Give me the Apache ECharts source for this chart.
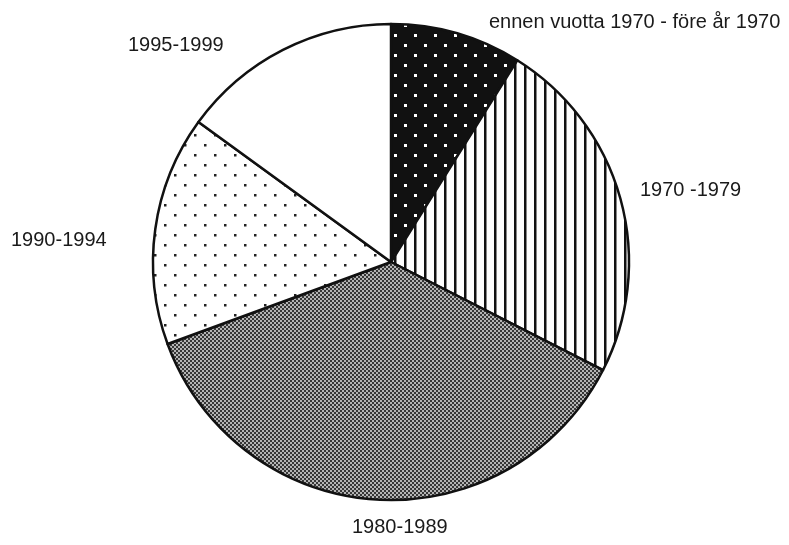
<!DOCTYPE html>
<html>
<head>
<meta charset="utf-8">
<script src="https://cdn.jsdelivr.net/npm/echarts@6/dist/echarts.min.js"></script>
<style>
  html, body { margin: 0; padding: 0; background: #fff; }
  #chart { width: 789px; height: 545px; }
</style>
</head>
<body>
<div id="chart"></div>
<script>
// periods and their shares (%)
const periods = ['ennen vuotta 1970 - före år 1970', '1970 -1979', '1980-1989', '1990-1994', '1995-1999'];
const shares = [8.9, 23.6, 36.9, 15.6, 15.0];

// fill patterns
function makeTile(w, h, draw) {
  const c = document.createElement('canvas');
  c.width = w; c.height = h;
  draw(c.getContext('2d'));
  return c;
}
const darkDots = makeTile(20, 20, function (g) {
  g.fillStyle = '#111'; g.fillRect(0, 0, 20, 20);
  g.fillStyle = '#fff';
  g.fillRect(4, 4, 3, 3); g.fillRect(14, 14, 3, 3);
});
const vLines = makeTile(10, 10, function (g) {
  g.fillStyle = '#fff'; g.fillRect(0, 0, 10, 10);
  g.fillStyle = '#111'; g.fillRect(4, 0, 2.5, 10);
});
const checker = makeTile(4, 4, function (g) {
  g.fillStyle = '#363636'; g.fillRect(0, 0, 4, 4);
  g.fillStyle = '#b4b4b4'; g.fillRect(0, 0, 2, 2); g.fillRect(2, 2, 2, 2);
});
const lightDots = makeTile(20, 20, function (g) {
  g.fillStyle = '#fff'; g.fillRect(0, 0, 20, 20);
  g.fillStyle = '#222';
  g.fillRect(4, 4, 2.5, 2.5); g.fillRect(14, 14, 2.5, 2.5);
});
const fills = [
  { image: darkDots, repeat: 'repeat' },
  { image: vLines, repeat: 'repeat' },
  { image: checker, repeat: 'repeat' },
  { image: lightDots, repeat: 'repeat' },
  '#fff'
];

// where each label sits (left edge, vertical middle)
const labelPos = [[489, 22], [640, 190], [352, 527], [11, 240], [128, 45]];

const chart = echarts.init(document.getElementById('chart'));
chart.setOption({
  animation: false,
  series: [{
    type: 'pie',
    center: [391, 262],
    radius: 238,
    startAngle: 90,
    clockwise: true,
    avoidLabelOverlap: false,
    data: periods.map(function (p, i) {
      return { name: p, value: shares[i], itemStyle: { color: fills[i] } };
    }),
    itemStyle: { borderColor: '#111', borderWidth: 2.5 },
    label: {
      show: true,
      position: 'outside',
      formatter: '{b}',
      fontFamily: 'Liberation Sans, Arial, sans-serif',
      fontSize: 20,
      color: '#1a1a1a'
    },
    labelLine: { show: false },
    labelLayout: function (params) {
      const p = labelPos[params.dataIndex];
      return { x: p[0], y: p[1], align: 'left', verticalAlign: 'middle' };
    },
    emphasis: { disabled: true }
  }]
});
</script>
</body>
</html>
